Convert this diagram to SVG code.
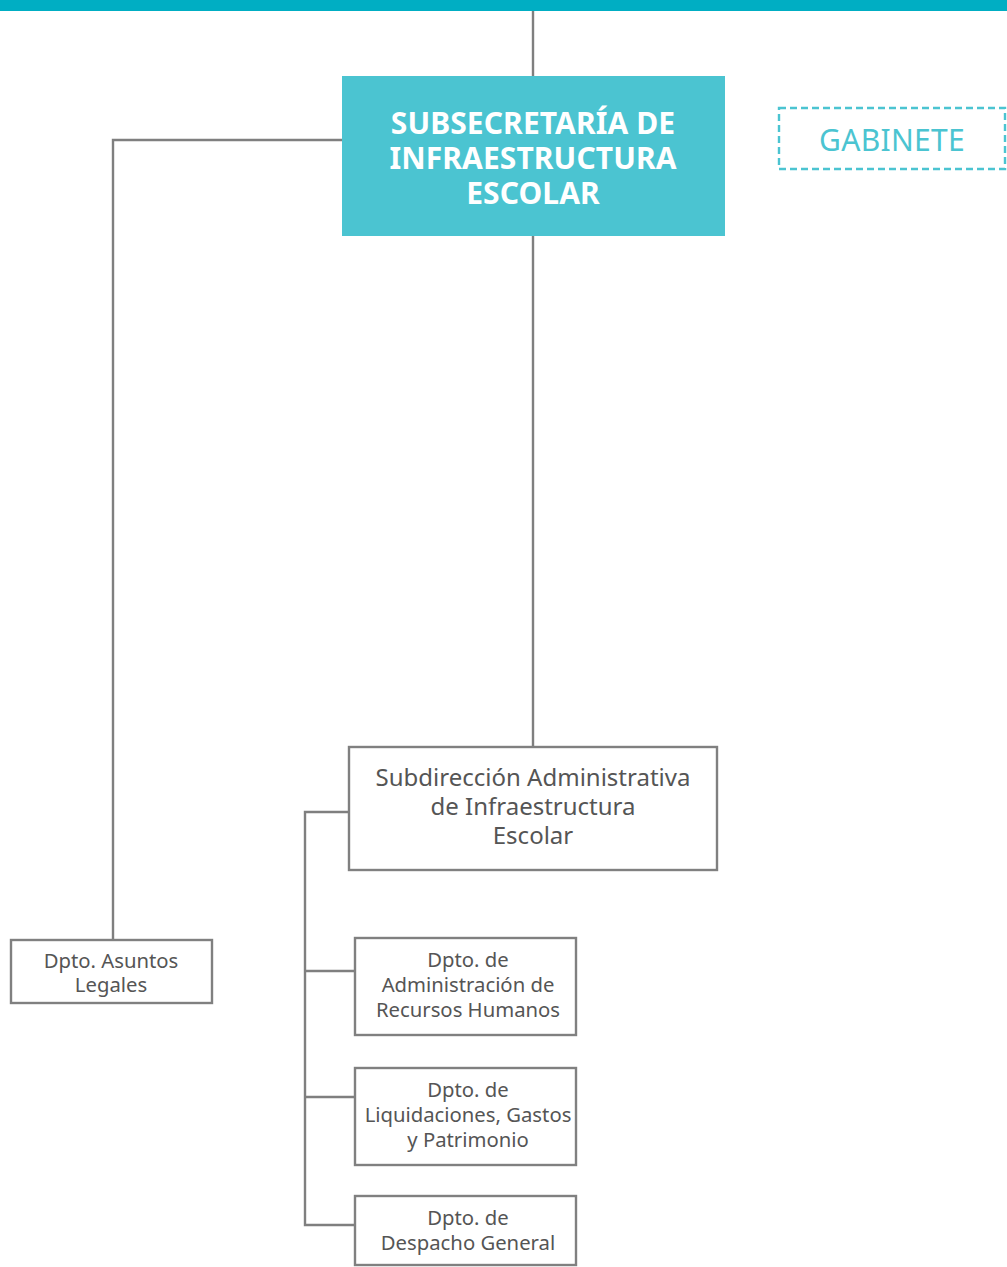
<svg xmlns="http://www.w3.org/2000/svg" width="1007" height="1267" viewBox="0 0 1007 1267">
<style>
.ln{stroke:#7f7f7f;stroke-width:2.4;fill:none}
.bx{fill:#fff;stroke:#808080;stroke-width:2.4}
.t{font-family:"Noto Sans","Open Sans",sans-serif;fill:#555;text-anchor:middle}
.s{font-size:20.3px}
.m{font-size:24px}
.h{font-family:"Noto Sans","Open Sans",sans-serif;font-weight:bold;font-size:30px;fill:#fff;text-anchor:middle;letter-spacing:0.1px}
</style>
<rect x="0" y="0" width="1007" height="11" fill="#00AEC3"/>
<g id="connectors">
<path class="ln" d="M533 11V76"/>
<path class="ln" d="M533 236V747"/>
<path class="ln" d="M342 140H113V940"/>
<path class="ln" d="M349 812H305V1225H355"/>
<path class="ln" d="M305 971H355"/>
<path class="ln" d="M305 1097H355"/>
</g>
<g id="subsecretaria">
<rect x="342" y="76" width="383" height="160" fill="#4BC4D1"/>
<text class="h" x="533" y="134">SUBSECRETARÍA DE</text>
<text class="h" x="533" y="169">INFRAESTRUCTURA</text>
<text class="h" x="533" y="204">ESCOLAR</text>
</g>
<g id="gabinete">
<rect x="779" y="108" width="226" height="61" fill="none" stroke="#4BC4D1" stroke-width="2.4" stroke-dasharray="7,4"/>
<text x="892" y="151" font-family="Noto Sans,Open Sans,sans-serif" font-size="30" fill="#4BC4D1" text-anchor="middle" letter-spacing="0.3">GABINETE</text>
</g>
<g id="subdireccion">
<rect class="bx" x="349" y="747" width="368" height="123"/>
<text class="t m" x="533" y="786">Subdirección Administrativa</text>
<text class="t m" x="533" y="815">de Infraestructura</text>
<text class="t m" x="533" y="844">Escolar</text>
</g>
<g id="legales">
<rect class="bx" x="11" y="940" width="201" height="63"/>
<text class="t s" x="111" y="968">Dpto. Asuntos</text>
<text class="t s" x="111" y="992">Legales</text>
</g>
<g id="rrhh">
<rect class="bx" x="355" y="938" width="221" height="97"/>
<text class="t s" x="468" y="967">Dpto. de</text>
<text class="t s" x="468" y="992">Administración de</text>
<text class="t s" x="468" y="1017">Recursos Humanos</text>
</g>
<g id="liquidaciones">
<rect class="bx" x="355" y="1068" width="221" height="97"/>
<text class="t s" x="468" y="1097">Dpto. de</text>
<text class="t s" x="468" y="1122">Liquidaciones, Gastos</text>
<text class="t s" x="468" y="1147">y Patrimonio</text>
</g>
<g id="despacho">
<rect class="bx" x="355" y="1196" width="221" height="69"/>
<text class="t s" x="468" y="1225">Dpto. de</text>
<text class="t s" x="468" y="1250">Despacho General</text>
</g>
</svg>
